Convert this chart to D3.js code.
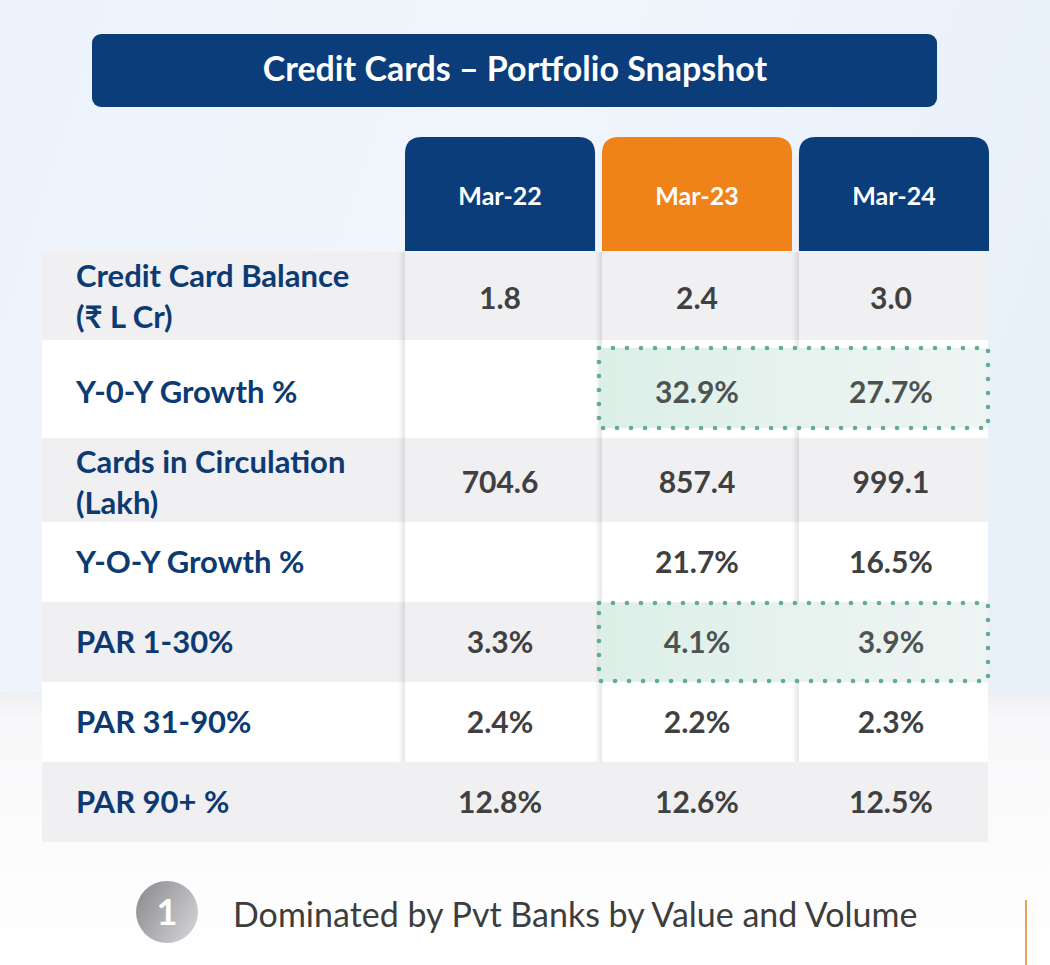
<!DOCTYPE html>
<html><head><meta charset="utf-8">
<script src="https://cdn.jsdelivr.net/npm/d3@7"></script>
<style>html,body{margin:0;padding:0;background:#fff;}svg{display:block;}</style>
</head><body>
<svg id="chart" width="1050" height="965"></svg>
<script>
// ---------- DATA ----------
const titleText = "Credit Cards \u2013 Portfolio Snapshot";
const periods = ["Mar-22", "Mar-23", "Mar-24"];
const highlightPeriod = "Mar-23";
const metricLabels = [
  ["Credit Card Balance", "(\u20B9 L Cr)"],
  ["Y-0-Y Growth %"],
  ["Cards in Circulation", "(Lakh)"],
  ["Y-O-Y Growth %"],
  ["PAR 1-30%"],
  ["PAR 31-90%"],
  ["PAR 90+ %"]
];
const balance = [1.8, 2.4, 3.0];
const balanceGrowth = [null, 32.9, 27.7];
const cardsInCirculation = [704.6, 857.4, 999.1];
const cardsGrowth = [null, 21.7, 16.5];
const par1to30 = [3.3, 4.1, 3.9];
const par31to90 = [2.4, 2.2, 2.3];
const par90plus = [12.8, 12.6, 12.5];
const highlightedRows = [1, 4];
const highlightedCols = ["Mar-23", "Mar-24"];
const footnoteNumber = "1";
const footnoteText = "Dominated by Pvt Banks by Value and Volume";

// ---------- LAYOUT ----------
const svg = d3.select("#chart");
const W = 1050, H = 965;
const FONT = "Lato, 'Open Sans', sans-serif";
const navy = "#0b3d7b", orange = "#f0821a", labelCol = "#0c3a73", valCol = "#404040";

const fmtNum = d3.format(".1f");
const fmtPct = v => v == null ? "" : d3.format(".1f")(v) + "%";
const rows = [
  {label: metricLabels[0], vals: balance.map(fmtNum)},
  {label: metricLabels[1], vals: balanceGrowth.map(fmtPct)},
  {label: metricLabels[2], vals: cardsInCirculation.map(fmtNum)},
  {label: metricLabels[3], vals: cardsGrowth.map(fmtPct)},
  {label: metricLabels[4], vals: par1to30.map(fmtPct)},
  {label: metricLabels[5], vals: par31to90.map(fmtPct)},
  {label: metricLabels[6], vals: par90plus.map(fmtPct)}
];

const rowWeights = [88, 98, 84, 80, 80, 80, 80];
const rowTextShift = [0, 3, 2, 0, 0, 0, 0];
const cum = [0, ...d3.cumsum(rowWeights)];
const y = d3.scaleLinear().domain([0, d3.sum(rowWeights)]).range([252, 842]);
const x = d3.scaleBand().domain(periods).range([405, 989]).paddingInner(0.035).paddingOuter(0);
const tableLeft = 42, tableRight = 988;

const defs = svg.append("defs");
const bg = defs.append("linearGradient").attr("id","bg").attr("x1",0).attr("x2",1).attr("y1",0).attr("y2",0.3);
bg.append("stop").attr("offset",0).attr("stop-color","#edf3fb");
bg.append("stop").attr("offset",0.5).attr("stop-color","#f1f6fc");
bg.append("stop").attr("offset",1).attr("stop-color","#e8f0fa");
const low = defs.append("linearGradient").attr("id","low").attr("x1",0).attr("x2",0).attr("y1",0).attr("y2",1);
low.append("stop").attr("offset",0).attr("stop-color","#eeeff2");
low.append("stop").attr("offset",0.1).attr("stop-color","#f8f8fa");
low.append("stop").attr("offset",1).attr("stop-color","#ffffff");
const mint = defs.append("linearGradient").attr("id","mint").attr("x1",0).attr("x2",1);
mint.append("stop").attr("offset",0).attr("stop-color","#dcefe7");
mint.append("stop").attr("offset",0.5).attr("stop-color","#e6f2ee");
mint.append("stop").attr("offset",1).attr("stop-color","#eef5f4");
const sh = defs.append("linearGradient").attr("id","shadowL").attr("x1",0).attr("x2",1);
sh.append("stop").attr("offset",0).attr("stop-color","#000").attr("stop-opacity",0);
sh.append("stop").attr("offset",1).attr("stop-color","#000").attr("stop-opacity",0.10);
const circ = defs.append("linearGradient").attr("id","circ").attr("x1",0).attr("x2",1).attr("y1",0.2).attr("y2",0.8);
circ.append("stop").attr("offset",0).attr("stop-color","#8e8d92");
circ.append("stop").attr("offset",1).attr("stop-color","#d2d1d6");

// background
svg.append("rect").attr("width",W).attr("height",H).attr("fill","url(#bg)");
svg.append("rect").attr("x",0).attr("y",692).attr("width",W).attr("height",H-692).attr("fill","url(#low)");

// title
svg.append("rect").attr("x",92).attr("y",34).attr("width",845).attr("height",73).attr("rx",9).attr("fill",navy);
svg.append("text").attr("x",515).attr("y",81).attr("text-anchor","middle")
  .attr("font-family",FONT).attr("font-weight",700).attr("font-size",34).attr("fill","#fff").text(titleText);

// header tabs
const tabTop = 137, tabBot = 251, r = 17;
svg.append("g").selectAll("path").data(periods).join("path")
  .attr("d", p => {
    const x0 = x(p), x1 = x(p) + x.bandwidth();
    return `M${x0},${tabBot}V${tabTop+r}Q${x0},${tabTop} ${x0+r},${tabTop}H${x1-r}Q${x1},${tabTop} ${x1},${tabTop+r}V${tabBot}Z`;
  })
  .attr("fill", p => p === highlightPeriod ? orange : navy);
svg.append("g").selectAll("text").data(periods).join("text")
  .attr("x", p => x(p) + x.bandwidth()/2).attr("y", 205).attr("text-anchor","middle")
  .attr("font-family",FONT).attr("font-weight",700).attr("font-size",25).attr("fill","#fff").text(p => p);

// row backgrounds
svg.append("g").selectAll("rect").data(rows).join("rect")
  .attr("x", tableLeft).attr("width", tableRight - tableLeft)
  .attr("y", (d,i) => y(cum[i])).attr("height", (d,i) => y(cum[i+1]) - y(cum[i]))
  .attr("fill", (d,i) => i % 2 === 0 ? "#f0eff2" : "#ffffff");

// column edge shadows (rows 0..5)
const shadowBottom = y(cum[6]);
svg.append("g").selectAll("rect").data(periods).join("rect")
  .attr("x", p => x(p) - 7).attr("width", 7)
  .attr("y", 252).attr("height", shadowBottom - 252)
  .attr("fill","url(#shadowL)");

// highlight boxes (behind text)
const hl = svg.append("g");
highlightedRows.forEach(ri => {
  const y0 = y(cum[ri]) + (ri === 1 ? 8 : 1), y1 = y(cum[ri+1]) - (ri === 1 ? 10 : 1);
  const x0 = x(highlightedCols[0]) - 3, x1 = tableRight;
  hl.append("rect").attr("x",x0).attr("y",y0).attr("width",x1-x0).attr("height",y1-y0).attr("fill","url(#mint)");
  hl.append("rect").attr("x",x0).attr("y",y0).attr("width",x1-x0).attr("height",y1-y0)
    .attr("fill","none").attr("stroke","#5fae8e").attr("stroke-width",4.6)
    .attr("stroke-linecap","round").attr("stroke-dasharray","0 14");
});

// labels and values
const rowG = svg.append("g").selectAll("g").data(rows).join("g");
rowG.each(function(d,i){
  const g = d3.select(this);
  const cy = (y(cum[i]) + y(cum[i+1]))/2 + rowTextShift[i];
  const lines = d.label;
  lines.forEach((t,k) => {
    const off = lines.length === 1 ? 0 : (k === 0 ? -20.5 : 20.5);
    g.append("text").attr("x",76).attr("y", cy + off + 11)
      .attr("font-family",FONT).attr("font-weight",700).attr("font-size",31).attr("fill",labelCol).text(t);
  });
  const isHl = highlightedRows.includes(i);
  g.selectAll("text.v").data(d.vals).join("text").attr("class","v")
    .attr("x", (v,j) => x(periods[j]) + x.bandwidth()/2 + (j===2 ? -3 : 0))
    .attr("y", cy + 11 + (i===0 ? 2 : 0)).attr("text-anchor","middle")
    .attr("font-family",FONT).attr("font-weight",700).attr("font-size",30)
    .attr("fill", (v,j) => isHl && highlightedCols.includes(periods[j]) ? "#4e5352" : valCol).text(v => v);
});

// footnote
svg.append("circle").attr("cx",167).attr("cy",912).attr("r",31).attr("fill","url(#circ)");
svg.append("text").attr("x",167).attr("y",925).attr("text-anchor","middle")
  .attr("font-family",FONT).attr("font-weight",700).attr("font-size",36).attr("fill","#fff").text(footnoteNumber);
svg.append("text").attr("x",233).attr("y",927)
  .attr("font-family",FONT).attr("font-weight",400).attr("font-size",34).attr("fill","#3d3d3d").text(footnoteText);
svg.append("line").attr("x1",1026).attr("x2",1026).attr("y1",900).attr("y2",965)
  .attr("stroke","#e3a564").attr("stroke-width",2);
</script>
</body></html>
